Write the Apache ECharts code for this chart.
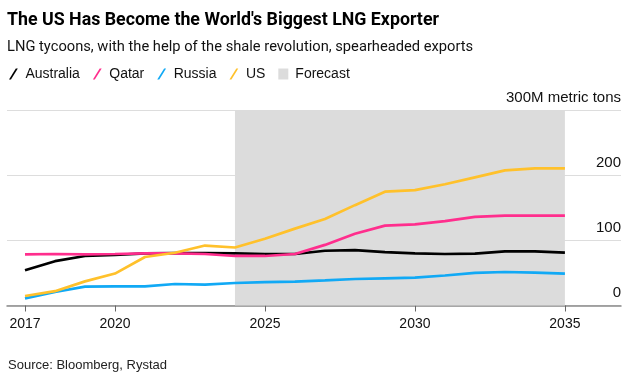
<!DOCTYPE html>
<html><head><meta charset="utf-8">
<script src="https://cdn.jsdelivr.net/npm/echarts@6/dist/echarts.min.js"></script>
<style>html,body{margin:0;padding:0;background:#fff}#c{width:639px;height:382px}</style>
</head><body><div id="c"></div>
<script>
const years = [2017,2018,2019,2020,2021,2022,2023,2024,2025,2026,2027,2028,2029,2030,2031,2032,2033,2034,2035];
const australia = [54,68,76,77.5,80,80.5,80.5,80,79,79,84,85,82,80,79,79.5,83,83,81];
const qatar = [78.5,79,78.5,79,80,80,79,76,76,79,93,110,122.5,124.5,129.6,136,138,138,138];
const russia = [11,20.7,29,29.4,29.4,33,32,34.5,36,36.6,38.6,40.7,41.7,42.7,46,50,51.4,50.4,48.8];
const us = [14.6,22,37,49,74.4,81,92,89,102.5,118,132.7,154,174.6,177,186,196.7,207.4,210.5,210.5];
const xTicks = [2017,2020,2025,2030,2035];
const yTicks = [0,100,200,300];
const forecastRange = [2024,2035];
const seriesNames = ['Australia','Qatar','Russia','US'];
const colors = ['#000000','#ff2e8d','#11a9f5','#ffc12b'];

const font = 'Liberation Sans, Arial, sans-serif';
const headFont = 'Roboto, sans-serif';
const slash = 'path://M0,10 L1.8,10 L8,0 L6.2,0 Z';
const chart = echarts.init(document.getElementById('c'));
const vals = [australia, qatar, russia, us];
const series = seriesNames.map((n,i)=>({
  name:n, type:'line', data: years.map((y,j)=>[y, vals[i][j]]),
  symbol:'none', lineStyle:{width:2.7,color:colors[i]}, itemStyle:{color:colors[i]}, z:5
}));
series.unshift({
  name:'Forecast', type:'line', data:[], itemStyle:{color:'#dcdcdc'}, z:1,
  markArea:{silent:true, itemStyle:{color:'#dcdcdc'}, data:[[{xAxis:forecastRange[0]},{xAxis:forecastRange[1]}]]}
});
chart.setOption({
  animation:false,
  textStyle:{fontFamily:font},
  title:[
    {text:"The US Has Become the World's Biggest LNG Exporter", left:7, top:12, padding:0,
     textStyle:{fontFamily:headFont, fontWeight:'bold', fontSize:17.8, color:'#000'}},
    {text:'LNG tycoons, with the help of the shale revolution, spearheaded exports', left:7, top:40, padding:0,
     textStyle:{fontFamily:headFont, fontWeight:'normal', fontSize:14.7, color:'#111'}},
    {text:'Source: Bloomberg, Rystad', left:8, top:359, padding:0,
     textStyle:{fontFamily:font, fontWeight:'normal', fontSize:13, color:'#222'}}
  ],
  legend:{
    left:9, top:67, padding:0, itemWidth:10, itemHeight:11, itemGap:13,
    data:[
      {name:'Australia', icon:slash},
      {name:'Qatar', icon:slash},
      {name:'Russia', icon:slash},
      {name:'US', icon:slash},
      {name:'Forecast', icon:'rect', itemStyle:{color:'#dcdcdc'}}
    ],
    textStyle:{fontFamily:font, fontSize:14, color:'#111', padding:[0,0,0,2]}
  },
  grid:{left:7, right:18, top:110, bottom:76.5, containLabel:false},
  xAxis:{
    type:'value', min:2016.4, max:2036.87,
    axisLine:{show:true, lineStyle:{color:'#8a8a8a', width:1.5}},
    axisTick:{show:true, customValues:xTicks, length:6, lineStyle:{color:'#666'}},
    axisLabel:{customValues:xTicks, formatter:v=>String(v), fontSize:14, color:'#111', margin:12, fontFamily:font},
    splitLine:{show:false}
  },
  yAxis:{
    type:'value', position:'right', min:0, max:300, interval:100,
    axisLine:{show:false}, axisTick:{show:false},
    splitLine:{show:true, lineStyle:{color:'#dddddd', width:1.2}},
    axisLabel:{inside:true, margin:0, verticalAlign:'bottom', align:'right', padding:[0,0,5,0],
      fontSize:15, color:'#111', fontFamily:font,
      formatter:v=> v===300 ? '300M metric tons' : String(v)}
  },
  series
});
</script></body></html>
